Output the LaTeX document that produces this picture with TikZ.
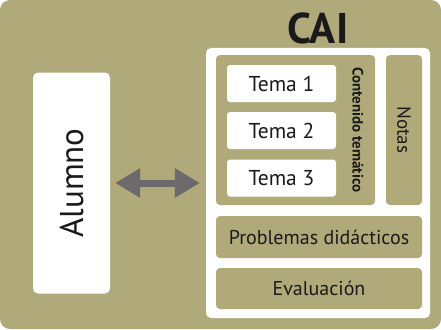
\documentclass[tikz,border=0pt]{standalone}
\usepackage{fontspec}
\setmainfont{PT Sans}
\usetikzlibrary{arrows.meta,positioning}
\definecolor{caiolive}{HTML}{B0AA7A}
\definecolor{caigrey}{HTML}{6D6A6B}
\definecolor{caitext}{HTML}{1A1A1A}
\tikzset{
  page/.style={fill=caiolive,rounded corners=10pt},
  panel/.style={fill=white,rounded corners=5pt,minimum width=224pt,minimum height=270pt,inner sep=0pt},
  topic/.style={fill=white,rounded corners=3pt,minimum width=109pt,minimum height=37pt,
                inner sep=0pt,text=caitext,font=\fontsize{21.5}{23}\selectfont},
  band/.style={fill=caiolive,rounded corners=4pt,minimum width=206pt,minimum height=41pt,
               inner sep=0pt,text=caitext,font=\fontsize{20}{22}\selectfont},
  lab/.style={text=caitext,inner sep=0pt},
  dbl/.style={{Triangle[length=25pt,width=28pt]}-{Triangle[length=25pt,width=28pt]},
              line width=7pt,caigrey},
}

\begin{document}
\begin{tikzpicture}[x=1pt,y=-1pt]
    \useasboundingbox (0,0) rectangle (441,329);
    \fill[white] (0,0) rectangle (441,329);
    \fill[page] (0,0) rectangle (441,329);
    \node[lab,font=\fontsize{43}{45}\selectfont\bfseries] (title) at (318,28) {CAI};
    \node[panel] (cai) at (318,183) {};
    \node[band,minimum width=159pt,minimum height=150pt] (contenido) at (295.5,130) {};
    \node[band,rotate=-90,minimum width=150pt,minimum height=36pt,font=\fontsize{19}{21}\selectfont] (notas) at (404,130) {Notas};
    \node[topic] (tema1) at (281.5,83.5) {Tema 1};
    \node[topic] (tema2) at (281.5,130.5) {Tema 2};
    \node[topic] (tema3) at (281.5,178) {Tema 3};
    \node[lab,rotate=-90,font=\fontsize{15}{17}\selectfont\bfseries] (contlab) at (358,130) {Contenido temático};
    \node[band,minimum height=42pt] (problemas) at (319,237) {Problemas didácticos};
    \node[band] (evaluacion) at (319,288.5) {Evaluación};
    \node[panel,rotate=90,minimum width=221pt,minimum height=77pt,font=\fontsize{33}{35}\selectfont,text=caitext] (alumno) at (71.5,183) {Alumno};
    \draw[dbl,shorten <=5pt,shorten >=6pt] (alumno) -- (cai);
\end{tikzpicture}
\end{document}
